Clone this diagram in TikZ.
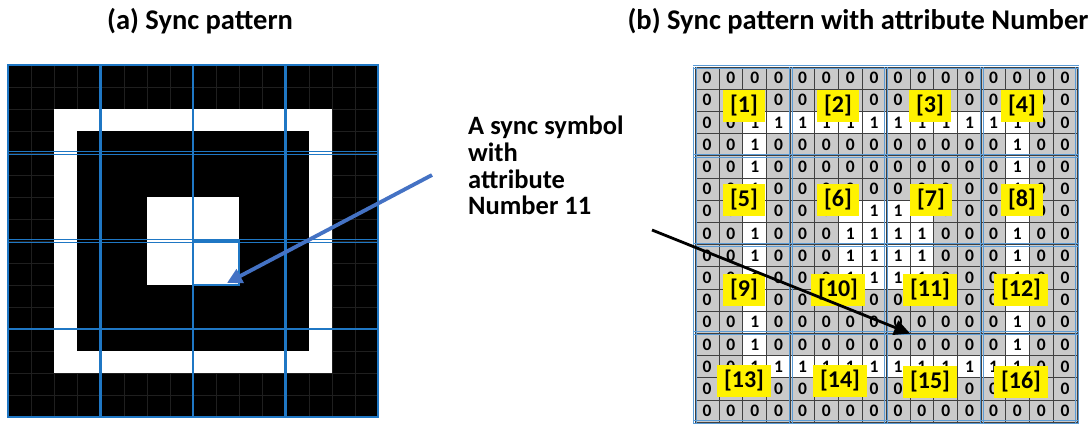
\documentclass[tikz,border=0pt]{standalone}
\usepackage{fontspec}
\setmainfont{Carlito}
\usetikzlibrary{arrows.meta}
\definecolor{gridblue}{HTML}{1F77C4}
\definecolor{sepblue}{HTML}{5B9BD5}
\definecolor{arrowblue}{HTML}{4472C4}
\definecolor{cellgray}{HTML}{CACACA}
\begin{document}
\begin{tikzpicture}[x=1pt,y=-1pt,
  title/.style={font=\bfseries\fontsize{28.5}{28.5}\selectfont},
  note/.style={font=\bfseries\fontsize{26.5}{26.7}\selectfont, align=left, anchor=north west, inner sep=0},
  cell/.style={draw=black!75, line width=.6pt, minimum width=23.875pt, minimum height=22.19pt,
    inner sep=0, font=\bfseries\fontsize{17.5}{17.5}\selectfont},
  blocklabel/.style={fill=yellow, inner xsep=7pt, inner ysep=5pt, font=\bfseries\fontsize{24}{24}\selectfont}]
  \useasboundingbox (0,0) rectangle (1092,423);
  % titles
  \node[title] (titleA) at (200,21) {(a) Sync pattern};
  \node[title] (titleB) at (858,21) {(b) Sync pattern with attribute Number};
  % (a) sync pattern, 16x16 cells
  \fill[black] (8,65) rectangle (378,417);
  \foreach \k in {1,...,15} {
    \draw[black!88, line width=.25pt] ({8+\k*23.125},65) -- ({8+\k*23.125},417);
    \draw[black!88, line width=.25pt] (8,{65+\k*22}) -- (378,{65+\k*22});
  }
  \fill[white] (54.25,109) rectangle (331.75,373);
  \fill[black] (77.4,131) rectangle (308.6,351);
  \fill[white] (146.75,197) rectangle (239.25,285);
  \foreach \k in {4,8,12}
    \draw[gridblue, line width=2.2pt] ({8+\k*23.125},65) -- ({8+\k*23.125},417);
  \foreach \k in {4,8} {
    \draw[gridblue, line width=1.4pt] (8,{65+\k*22-1.7}) -- (378,{65+\k*22-1.7});
    \draw[gridblue, line width=1.4pt] (8,{65+\k*22+1.7}) -- (378,{65+\k*22+1.7});
  }
  \draw[gridblue, line width=2.2pt] (8,329) -- (378,329);
  \draw[gridblue, line width=2.2pt] (8,65) rectangle (378,417);
  \draw[gridblue, line width=2.2pt] (193,241) rectangle (239.25,285);
  % (b) bits
  \foreach \r in {0,...,15}
    \foreach \c in {0,...,15} {
      \pgfmathtruncatemacro\bit{((\r==2||\r==13)&&\c>=2&&\c<=13)||((\c==2||\c==13)&&\r>=2&&\r<=13)||(\r>=6&&\r<=9&&\c>=6&&\c<=9)}
      \ifnum\bit=1 \def\cellfill{white}\else\def\cellfill{cellgray}\fi
      \node[cell, fill=\cellfill] (b-\r-\c) at ({695+(\c+0.5)*23.875},{67+(\r+0.5)*22.19}) {\bit};
    }
  \foreach \k in {0,4,8,12,16} {
    \draw[sepblue, line width=.9pt] ({695+\k*23.875-1.5},67) -- ({695+\k*23.875-1.5},423);
    \draw[sepblue, line width=.9pt] ({695+\k*23.875+1.5},67) -- ({695+\k*23.875+1.5},423);
    \draw[sepblue, line width=.9pt] (693,{67+\k*22.19-1.5}) -- (1079,{67+\k*22.19-1.5});
    \draw[sepblue, line width=.9pt] (693,{67+\k*22.19+1.5}) -- (1079,{67+\k*22.19+1.5});
  }
  % labels
  \node[blocklabel] (n1) at (744,106) {[1]};
  \node[blocklabel] (n2) at (838,106) {[2]};
  \node[blocklabel] (n3) at (930,106) {[3]};
  \node[blocklabel] (n4) at (1022,106) {[4]};
  \node[blocklabel] (n5) at (744,200) {[5]};
  \node[blocklabel] (n6) at (838,200) {[6]};
  \node[blocklabel] (n7) at (931,200) {[7]};
  \node[blocklabel] (n8) at (1022,200) {[8]};
  \node[blocklabel] (n9) at (744,290) {[9]};
  \node[blocklabel] (n10) at (838,290) {[10]};
  \node[blocklabel] (n11) at (930,290) {[11]};
  \node[blocklabel] (n12) at (1021,290) {[12]};
  \node[blocklabel] (n13) at (744,381) {[13]};
  \node[blocklabel] (n14) at (840,381) {[14]};
  \node[blocklabel] (n15) at (930,382) {[15]};
  \node[blocklabel] (n16) at (1021,382) {[16]};
  % note and arrows
  \node[note] (note) at (468,116) {A sync symbol\\with\\attribute\\Number 11};
  \coordinate (bluetail) at (432,175);
  \coordinate (symtip) at (227,283);
  \coordinate (blacktail) at (652,230);
  \draw[arrowblue, line width=3.8pt, -{Triangle[length=15pt,width=15pt]}] (bluetail) -- (symtip);
  \draw[black, line width=2.8pt, -{Triangle[length=16pt,width=15pt]}] (blacktail) -- (b-11-8.south east);
\end{tikzpicture}
\end{document}
